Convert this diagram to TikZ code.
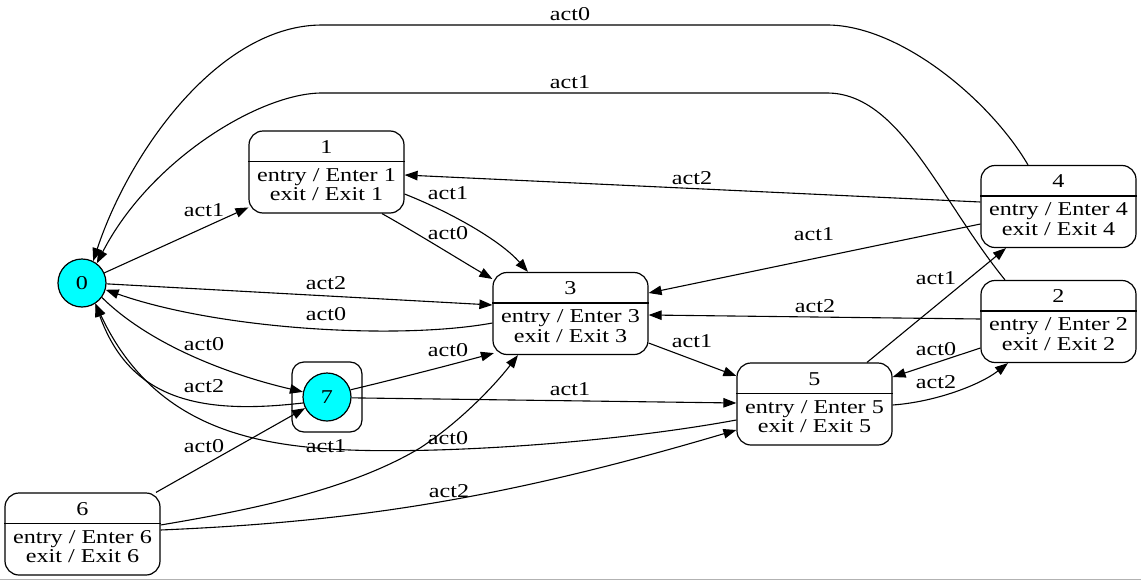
\documentclass[tikz,border=0pt]{standalone}
\usepackage{fontspec}
\setmainfont{Liberation Serif}[FakeStretch=1.23]
\usetikzlibrary{arrows.meta,calc}

\definecolor{aqua}{RGB}{0,255,255}

\tikzset{
  statebox/.style={draw, line width=1.2pt, rounded corners=14pt,
    minimum width=155pt, minimum height=82pt, inner sep=0pt},
  roundnode/.style={circle, draw, line width=1.2pt, fill=aqua,
    minimum size=48pt, inner sep=0pt, font=\fontsize{19.6}{19.4}\selectfont},
  wrapbox/.style={draw, line width=1.2pt, rounded corners=12pt,
    minimum size=70pt, inner sep=0pt},
  txt/.style={inner sep=0pt, font=\fontsize{19.6}{19.4}\selectfont},
  lab/.style={txt},
  tr/.style={-{Triangle[length=13pt,width=9.5pt]}, line width=1.1pt},
}

% a state with its name, a divider and the entry/exit actions
\newcommand\umlstate[4]{%
  \node[statebox] (#1) at (#2,#3) {};
  \node[txt, anchor=base] (#1-t) at ($(#1.north)+(0,23)$) {#4};
  \draw[line width=1.2pt] ($(#1.north west)+(0,31)$) -- ($(#1.north east)+(0,31)$);
  \node[txt, anchor=base] (#1-a) at ($(#1.north)+(0,51)$) {entry / Enter #4};
  \node[txt, anchor=base] (#1-b) at ($(#1.north)+(0,70.5)$) {exit / Exit #4};
}

\begin{document}
\begin{tikzpicture}[x=1pt, y=-1pt]
  \fill[white] (0,0) rectangle (1141,581);
  \useasboundingbox (0,0) rectangle (1141,581);
  \draw[gray!60, line width=1.5pt] (0,579.7) -- (1141,579.7);

  % states
  \node[roundnode] (n0) at (82,283) {0};
  \umlstate{n1}{326.5}{172}{1}
  \umlstate{n3}{570.5}{313.5}{3}
  \umlstate{n4}{1058.5}{206.5}{4}
  \umlstate{n2}{1058.5}{321.5}{2}
  \umlstate{n5}{814.5}{404}{5}
  \umlstate{n6}{82.5}{534}{6}
  \node[wrapbox] (b7) at (327,397) {};
  \node[roundnode] (c7) at (327,397) {7};

  % transitions
  \draw[tr] ([xshift=-30.5pt]n4.north) .. controls (990,100) and (900,25) .. (827,25)
    -- (322,25) .. controls (220,25) and (130,150) .. (n0.63);
  \node[lab] (l1) at (570,14) {act0};

  \draw[tr] ([xshift=-53.5pt]n2.north) .. controls (940,200) and (900,93) .. (827,93)
    -- (322,93) .. controls (260,93) and (150,160) .. (n0.53);
  \node[lab] (l2) at (570,82) {act1};

  \draw[tr] (n0) -- (n1);
  \node[lab] (l3) at (204,210) {act1};

  \draw[tr] ([yshift=4.5pt]n4.west) -- ([yshift=-3pt]n1.east);
  \node[lab] (l4) at (692,178) {act2};

  \draw[tr] ([yshift=-22pt]n1.east) .. controls (450,212) and (500,240) .. ([xshift=-42.5pt]n3.north);
  \node[lab] (l5) at (448,193) {act1};

  \draw[tr] ([xshift=55.5pt]n1.south) .. controls (420,235) and (460,260) .. ([yshift=34.5pt]n3.west);
  \node[lab] (l6) at (448,233) {act0};

  \draw[tr] ([yshift=-17.5pt]n4.west) -- ([yshift=20.5pt]n3.east);
  \node[lab] (l7) at (814,234) {act1};

  \draw[tr] (n0.-2) -- ([yshift=8.5pt]n3.west);
  \node[lab] (l8) at (326,283) {act2};

  \draw[tr] ([yshift=-9.5pt]n3.west) .. controls (400,340) and (220,330) .. (n0.-16);
  \node[lab] (l9) at (326,314) {act0};

  \draw[tr] ([yshift=2.5pt]n2.west) -- ([yshift=-1.5pt]n3.east);
  \node[lab] (l10) at (815,306) {act2};

  \draw[tr] ([yshift=-29.5pt]n3.east) -- ([yshift=28pt]n5.west);
  \node[lab] (l11) at (692,341) {act1};

  \draw[tr] (n0.-36) .. controls (150,345) and (230,375) .. (c7.168);
  \node[lab] (l12) at (204,344) {act0};

  \draw[tr] (c7.194) .. controls (200,415) and (130,400) .. (n0.-57);
  \node[lab] (l13) at (204,386) {act2};

  \draw[tr] (c7.17) .. controls (400,378) and (450,365) .. ([xshift=1.5pt,yshift=2pt]n3.south west);
  \node[lab] (l14) at (448,350) {act0};

  \draw[tr] (c7.-2) -- ([yshift=1pt]n5.west);
  \node[lab] (l15) at (570,389) {act1};

  \draw[tr] ([yshift=-16pt]n5.west) .. controls (600,445) and (420,455) .. (330,449)
    .. controls (240,443) and (150,420) .. (n0.-57);
  \node[lab] (l16) at (326,446) {act1};

  \draw[tr] ([xshift=73.5pt]n6.north) -- (c7.207);
  \node[lab] (l17) at (204,446) {act0};

  \draw[tr] ([yshift=9pt]n6.east) .. controls (250,510) and (350,490) .. (420,448)
    .. controls (460,422) and (495,385) .. ([xshift=-52.5pt]n3.south);
  \node[lab] (l18) at (448,438) {act0};

  \draw[tr] ([yshift=4pt]n6.east) .. controls (350,522) and (500,500) .. ([yshift=-26pt]n5.west);
  \node[lab] (l19) at (449,491) {act2};

  \draw[tr] ([xshift=52.5pt]n5.north) -- ([xshift=-52.5pt]n4.south);
  \node[lab] (l20) at (936,278) {act1};

  \draw[tr] ([yshift=-26.5pt]n2.west) -- ([yshift=27pt]n5.east);
  \node[lab] (l21) at (936,349) {act0};

  \draw[tr] ([yshift=-1pt]n5.east) .. controls (935,402) and (980,385) .. ([xshift=-50.5pt]n2.south);
  \node[lab] (l22) at (936,382) {act2};
\end{tikzpicture}
\end{document}
